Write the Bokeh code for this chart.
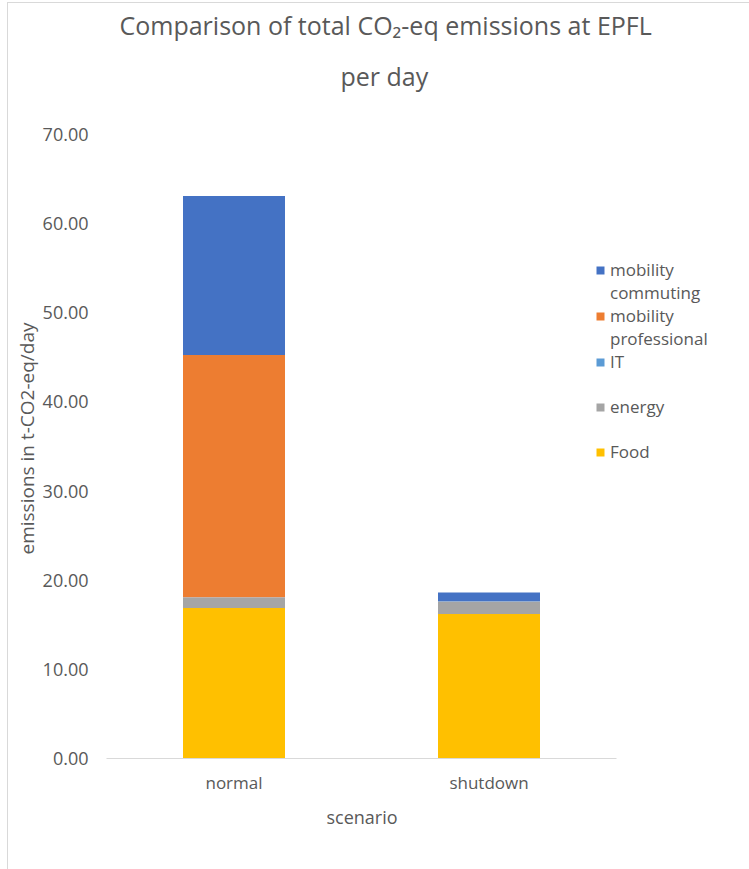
from bokeh.plotting import figure
from bokeh.models import (Range1d, Legend, LegendItem, Title,
                          NumeralTickFormatter, FixedTicker)
from bokeh.embed import file_html
from bokeh.resources import INLINE

scenarios = ["normal", "shutdown"]
food = [16.87, 16.20]
energy = [1.19, 1.42]
it = [0.02, 0.02]
mobility_professional = [27.18, 0.00]
mobility_commuting = [17.84, 0.97]

stack_keys = ["Food", "energy", "IT", "mobility professional", "mobility commuting"]
colors = ["#FFC000", "#A5A5A5", "#5B9BD5", "#ED7D31", "#4472C4"]
y_ticks = [0, 10, 20, 30, 40, 50, 60, 70]
title_line1 = "Comparison of total CO₂-eq emissions at EPFL"
title_line2 = "per day"
x_label = "scenario"
y_label = "emissions in t-CO2-eq/day"

# category slots on a numeric scale: slot i spans [i, i+1]
x_pos = [i + 0.5 for i in range(len(scenarios))]

data = {
    "x": x_pos,
    "scenario": scenarios,
    "Food": food,
    "energy": energy,
    "IT": it,
    "mobility professional": mobility_professional,
    "mobility commuting": mobility_commuting,
}

TXT = "#595959"
FONT = "Open Sans"

# layout (page pixels)
FRAME_TOP, Y70_PX, BASE_PX = 105, 133, 758
PLOT_L, PLOT_R, FRAME_R = 106, 616, 750
y_end = 70 * (BASE_PX - FRAME_TOP) / (BASE_PX - Y70_PX)
x_end = len(scenarios) * (FRAME_R - PLOT_L) / (PLOT_R - PLOT_L)

p = figure(x_range=Range1d(0, x_end), y_range=Range1d(0, y_end),
           width=742, height=867, output_backend="svg", toolbar_location=None,
           min_border_left=98, min_border_right=0, min_border_top=102, min_border_bottom=112)
p.margin = (2, 0, 0, 7)
p.styles = {"border-left": "1px solid #d9d9d9", "border-top": "1px solid #d9d9d9"}
p.outline_line_color = None
p.background_fill_color = "white"
p.border_fill_color = "white"

rs = p.vbar_stack(stack_keys, x="x", width=0.4, color=colors, source=data, line_width=0)
blank = p.scatter(x=[], y=[], fill_alpha=0, line_alpha=0)

p.xgrid.visible = False
p.ygrid.visible = False

p.yaxis.ticker = FixedTicker(ticks=y_ticks)
p.yaxis.formatter = NumeralTickFormatter(format="0.00")
p.yaxis.axis_line_color = None
p.yaxis.major_tick_line_color = None
p.yaxis.minor_tick_line_color = None
p.yaxis.major_tick_out = 0
p.yaxis.major_tick_in = 0
p.yaxis.minor_tick_out = 0
p.yaxis.major_label_standoff = 18

p.xaxis.ticker = FixedTicker(ticks=x_pos)
p.xaxis.major_label_overrides = {xp: s for xp, s in zip(x_pos, scenarios)}
p.xaxis.bounds = (0, len(scenarios))
p.xaxis.axis_line_color = "#d9d9d9"
p.xaxis.axis_line_width = 1
p.xaxis.major_tick_line_color = None
p.xaxis.minor_tick_line_color = None
p.xaxis.major_tick_out = 0
p.xaxis.major_tick_in = 0
p.xaxis.minor_tick_out = 0
p.xaxis.major_label_standoff = 12

p.xaxis.major_label_text_font = FONT
p.xaxis.major_label_text_font_size = "17px"
p.xaxis.major_label_text_color = TXT
p.yaxis.major_label_text_font = FONT
p.yaxis.major_label_text_font_size = "18px"
p.yaxis.major_label_text_color = TXT

# axis titles placed as titles so they centre on the plot area, not the wider frame
xt = Title(text=x_label, align="left", offset=220, standoff=16,
           text_font=FONT, text_font_size="18px", text_font_style="normal",
           text_color=TXT, vertical_align="top")
p.add_layout(xt, "below")
yt = Title(text=y_label, align="left", offset=204, standoff=0,
           text_font=FONT, text_font_size="19px", text_font_style="normal",
           text_color=TXT, vertical_align="bottom")
p.add_layout(yt, "left")

r_food, r_energy, r_it, r_prof, r_comm = rs
items = [
    LegendItem(label="mobility", renderers=[r_comm]),
    LegendItem(label="commuting", renderers=[blank]),
    LegendItem(label="mobility", renderers=[r_prof]),
    LegendItem(label="professional", renderers=[blank]),
    LegendItem(label="IT", renderers=[r_it]),
    LegendItem(label=" ", renderers=[blank]),
    LegendItem(label="energy", renderers=[r_energy]),
    LegendItem(label=" ", renderers=[blank]),
    LegendItem(label="Food", renderers=[r_food]),
]
legend = Legend(items=items, location=(489, 295), orientation="vertical",
                glyph_width=10, glyph_height=10, label_standoff=5,
                label_text_font=FONT, label_text_font_size="17px", label_text_color=TXT,
                label_height=22, spacing=-1, padding=0, margin=0,
                border_line_color=None, background_fill_alpha=0)
p.add_layout(legend)

sub = Title(text=title_line2, align="left", offset=234, standoff=27,
            text_font=FONT, text_font_size="25px", text_font_style="normal",
            text_color=TXT, vertical_align="bottom")
main = Title(text=title_line1, align="left", offset=13, standoff=4,
             text_font=FONT, text_font_size="25px", text_font_style="normal",
             text_color=TXT, vertical_align="bottom")
p.add_layout(sub, "above")
p.add_layout(main, "above")

open("out.html", "w").write(file_html(p, INLINE))
